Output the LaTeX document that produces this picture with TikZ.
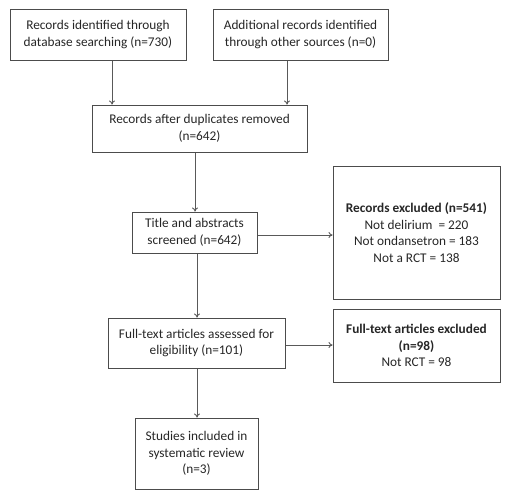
\documentclass[tikz,border=0pt]{standalone}
\usepackage{fontspec}
\setmainfont{Carlito}
\usetikzlibrary{arrows.meta}
\begin{document}
\begin{tikzpicture}[x=1pt,y=-1pt,
  box/.style={draw=black!70, line width=1pt, align=center, inner sep=0pt,
    font=\fontsize{13.3}{16.5}\selectfont, text=black!85},
  arr/.style={draw=black!65, line width=0.9pt, -{To[length=4pt,width=6pt]}}]
\useasboundingbox (0,0) rectangle (516,501);
\node[box, minimum width=176pt, minimum height=51pt] (b1) at (98,34.5) {Records identified through\\database searching (n=730)};
\node[box, minimum width=175pt, minimum height=51pt] (b2) at (300.5,34.5) {Additional records identified\\through other sources (n=0)};
\node[box, minimum width=215pt, minimum height=47pt] (b3) at (199.5,128.5) {Records after duplicates removed\\(n=642)};
\node[box, minimum width=125pt, minimum height=41pt] (b4) at (194.5,232.5) {Title and abstracts\\screened (n=642)};
\node[box, minimum width=167pt, minimum height=133pt] (b5) at (416.5,232.5) {\textbf{Records excluded (n=541)}\\Not delirium~ = 220\\Not ondansetron = 183\\Not a RCT = 138};
\node[box, minimum width=177pt, minimum height=50pt] (b6) at (196.5,343) {Full-text articles assessed for\\eligibility (n=101)};
\node[box, minimum width=167pt, minimum height=73pt] (b7) at (416.5,345.5) {\textbf{Full-text articles excluded}\\\textbf{(n=98)}\\Not RCT = 98};
\node[box, minimum width=123pt, minimum height=71pt] (b8) at (196.5,453.5) {Studies included in\\systematic review\\(n=3)};
\coordinate (c1) at (112,0);
\coordinate (c2) at (287,0);
\coordinate (c3) at (195,0);
\coordinate (c4) at (197,0);
\coordinate (r1) at (0,235);
\coordinate (r2) at (0,345);
\draw[arr] (b1.south -| c1) -- (b3.north -| c1);
\draw[arr] (b2.south -| c2) -- (b3.north -| c2);
\draw[arr] (b3.south -| c3) -- (b4.north -| c3);
\draw[arr] (b4.south -| c4) -- (b6.north -| c4);
\draw[arr] (b6.south -| c4) -- (b8.north -| c4);
\draw[arr] (b4.east |- r1) -- (b5.west |- r1);
\draw[arr] (b6.east |- r2) -- (b7.west |- r2);
\end{tikzpicture}
\end{document}
